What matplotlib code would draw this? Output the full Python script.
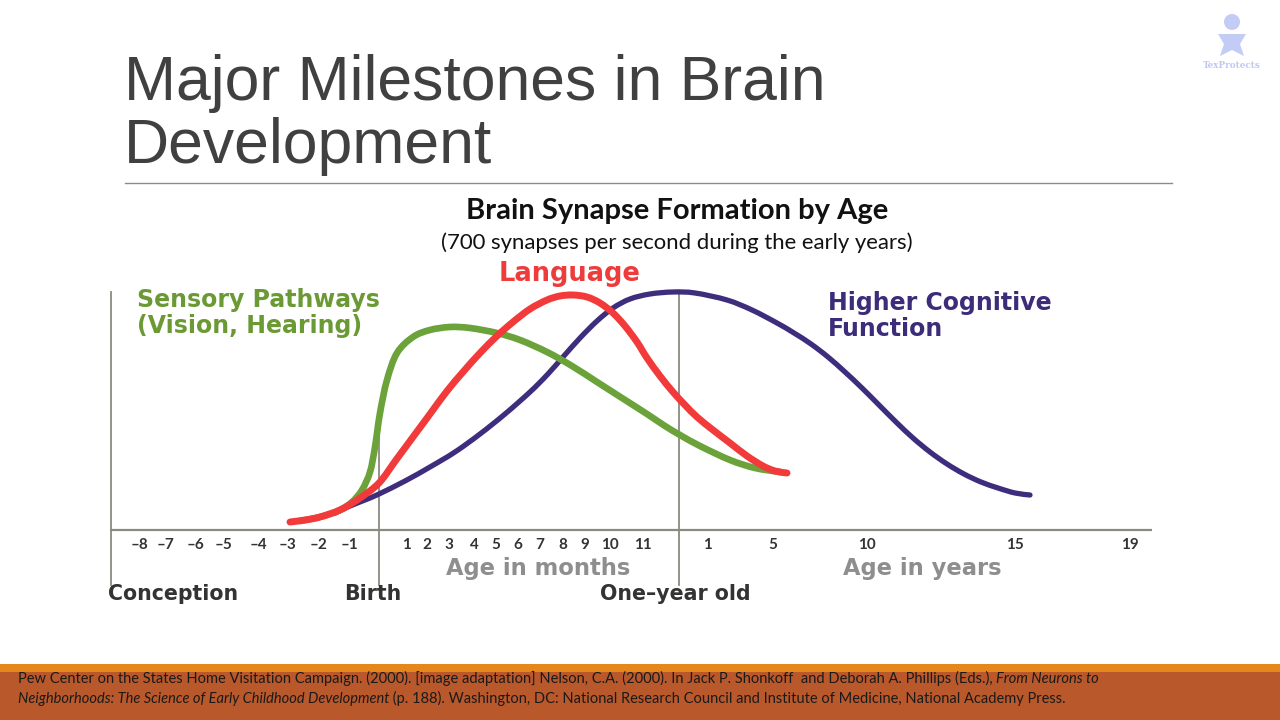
import matplotlib
matplotlib.use("Agg")
import matplotlib.pyplot as plt
from matplotlib.patches import Rectangle, Circle, Polygon, PathPatch
from matplotlib.path import Path

# ---------------- data (x: position along the age axis, birth = 0; y: relative synapse formation) -------------
sensory_x = [-79, -59, -39, -27, -17, -9, -4, 1, 8, 18, 34, 51, 71, 91, 118, 141, 168, 193, 218, 243, 268, 286, 301, 321, 351, 376, 401]
sensory_y = [9, 13, 20, 28, 40, 58, 83, 117, 150, 177, 193, 200, 203, 202, 197, 190, 178, 164, 148, 132, 116, 104, 95, 84, 70, 62, 58]

language_x = [-89, -74, -59, -39, -19, 0, 17, 34, 51, 68, 84, 101, 118, 134, 151, 168, 181, 194, 208, 221, 234, 246, 258, 268, 281, 294, 306, 318, 334, 351, 368, 384, 396, 408]
language_y = [8, 10, 13, 20, 32, 47, 70, 93, 116, 139, 158, 177, 194, 208, 221, 230, 234, 235, 233, 227, 217, 204, 188, 172, 154, 138, 125, 113, 100, 87, 74, 64, 59, 57]

cognitive_x = [-44, -29, -14, 0, 26, 51, 76, 101, 126, 151, 168, 184, 201, 218, 234, 251, 271, 294, 316, 348, 373, 398, 415, 432, 449, 466, 483, 500, 517, 534, 551, 568, 585, 602, 619, 636, 651]
cognitive_y = [17, 24, 30, 36, 49, 63, 78, 96, 116, 138, 155, 173, 192, 209, 222, 231, 236, 238, 237, 230, 220, 207, 197, 186, 173, 158, 142, 125, 108, 92, 78, 66, 56, 48, 42, 37, 35]

prenatal_labels = ["\u20138", "\u20137", "\u20136", "\u20135", "\u20134", "\u20133", "\u20132", "\u20131"]
prenatal_pos = [-239, -213, -184, -155, -121, -92, -60, -30]
month_labels = ["1", "2", "3", "4", "5", "6", "7", "8", "9", "10", "11"]
month_pos = [27, 48, 70, 95, 117, 139, 161, 184, 206, 231, 264]
year_labels = ["1", "5", "10", "15", "19"]
year_pos = [328, 394, 488, 636, 751]

milestone_labels = ["Conception", "Birth", "One\u2013year old"]
milestone_pos = [-206, -6, 296]

# ---------------- figure ----------------
W, H = 1280, 720
fig = plt.figure(figsize=(12.8, 7.2), dpi=100)
fig.patch.set_facecolor("white")


def fx(x):
    return x / W


def fy(y):
    return 1 - y / H


# slide title
title_kw = dict(family="Liberation Sans", fontsize=45, color="#404040", va="baseline", ha="left")
fig.text(fx(124), fy(100), "Major Milestones in Brain", **title_kw)
fig.text(fx(124), fy(163), "Development", **title_kw)
fig.add_artist(plt.Line2D([fx(125), fx(1172)], [fy(183), fy(183)], color="#8c8c8c", lw=1.0))

# chart title
fig.text(fx(677), fy(211), "Brain Synapse Formation by Age", family="Lato", fontweight="bold",
         fontsize=21, color="#111111", ha="center", va="center")
fig.text(fx(677), fy(243), "(700 synapses per second during the early years)", family="Lato",
         fontsize=15.9, color="#111111", ha="center", va="center")

# ---------------- chart axes ----------------
ax = fig.add_axes([fx(100), fy(620), fx(1060), 370 / H])
ax.set_xlim(-279, 781)
ax.set_ylim(-90, 280)
ax.axis("off")


def smooth_curve(xs, ys):
    """Smooth Bezier path through the read points (Catmull-Rom tangents)."""
    pts = list(zip(xs, ys))
    verts = [pts[0]]
    codes = [Path.MOVETO]
    n = len(pts)
    for i in range(n - 1):
        p0 = pts[i - 1] if i > 0 else pts[i]
        p1 = pts[i]
        p2 = pts[i + 1]
        p3 = pts[i + 2] if i + 2 < n else pts[i + 1]
        c1 = (p1[0] + (p2[0] - p0[0]) / 6.0, p1[1] + (p2[1] - p0[1]) / 6.0)
        c2 = (p2[0] - (p3[0] - p1[0]) / 6.0, p2[1] - (p3[1] - p1[1]) / 6.0)
        verts += [c1, c2, p2]
        codes += [Path.CURVE4] * 3
    return Path(verts, codes)


axis_col = "#8a8a80"
ax.plot([-269, 773], [0, 0], color=axis_col, lw=1.6, solid_capstyle="butt", zorder=1)
ax.plot([-268, -268], [-55, 238], color=axis_col, lw=1.3, zorder=1)
ax.plot([0, 0], [-55, 100], color=axis_col, lw=1.3, zorder=1)
ax.plot([300, 300], [-55, 238], color=axis_col, lw=1.3, zorder=1)

for xs, ys, col, lw, z in [(cognitive_x, cognitive_y, "#3e2d7c", 3.8, 2),
                           (sensory_x, sensory_y, "#6ba33a", 4.8, 3),
                           (language_x, language_y, "#f23a3a", 5.0, 4)]:
    ax.add_patch(PathPatch(smooth_curve(xs, ys), facecolor="none", edgecolor=col, lw=lw,
                           capstyle="round", joinstyle="round", zorder=z))

tick_kw = dict(family="Lato", fontweight="bold", fontsize=11, color="#333333", ha="center", va="center")
for lab, p in zip(prenatal_labels + month_labels + year_labels, prenatal_pos + month_pos + year_pos):
    ax.text(p, -15, lab, **tick_kw)

sub_kw = dict(family="DejaVu Sans", fontweight="bold", fontsize=16.3, color="#8e8e8e", ha="center", va="center")
ax.text(159, -38, "Age in months", **sub_kw)
ax.text(543, -38, "Age in years", **sub_kw)

mil_kw = dict(family="DejaVu Sans", fontweight="bold", fontsize=14.8, color="#333333", ha="center", va="center")
for lab, p in zip(milestone_labels, milestone_pos):
    ax.text(p, -64, lab, **mil_kw)

lab_kw = dict(family="DejaVu Sans", fontweight="bold", fontsize=17, ha="left", va="center", linespacing=1.1)
ax.text(-242, 217, "Sensory Pathways\n(Vision, Hearing)", color="#6b9a35", **lab_kw)
ax.text(449, 214, "Higher Cognitive\nFunction", color="#3d2c7a", **lab_kw)
ax.text(191, 256, "Language", color="#ee3b3b", family="DejaVu Sans", fontweight="bold", fontsize=18.5,
        ha="center", va="center")

# ---------------- footer ----------------
fig.add_artist(Rectangle((0, 0), 1, fy(664), transform=fig.transFigure, color="#e6871b", lw=0, zorder=0))
fig.add_artist(Rectangle((0, 0), 1, fy(672), transform=fig.transFigure, color="#b9582b", lw=0, zorder=0))

renderer = fig.canvas.get_renderer()
foot_kw = dict(family="Lato", fontsize=10.5, color="#1a1a1a", va="baseline", ha="left")


def write_runs(x0, ybase, runs):
    x = x0
    for txt, style in runs:
        t = fig.text(x, ybase, txt, style=style, **foot_kw)
        bb = t.get_window_extent(renderer=renderer)
        x = x + bb.width / W


write_runs(fx(18), fy(683), [
    ("Pew Center on the States Home Visitation Campaign. (2000). [image adaptation] Nelson, C.A. (2000). "
     "In Jack P. Shonkoff  and Deborah A. Phillips (Eds.), ", "normal"),
    ("From Neurons to", "italic")])
write_runs(fx(18), fy(703), [
    ("Neighborhoods: The Science of Early Childhood Development", "italic"),
    (" (p. 188). Washington, DC: National Research Council and Institute of Medicine, National Academy Press.",
     "normal")])

# ---------------- logo ----------------
lax = fig.add_axes([fx(1200), fy(76), fx(64), 64 / H])
lax.set_xlim(0, 64)
lax.set_ylim(0, 64)
lax.set_aspect("equal")
lax.axis("off")
lc = "#c3ccf4"
lax.add_patch(Circle((32, 54), 8, color=lc, lw=0))
lax.add_patch(Polygon([[18, 42], [46, 42], [40, 32], [44, 20], [32, 26], [20, 20], [24, 32]], color=lc, lw=0))
lax.text(32, 10, "TexProtects", family="DejaVu Serif", fontweight="bold", fontsize=6.3, color="#bfc8f0",
         ha="center", va="center")

fig.savefig("out.png", dpi=100)
